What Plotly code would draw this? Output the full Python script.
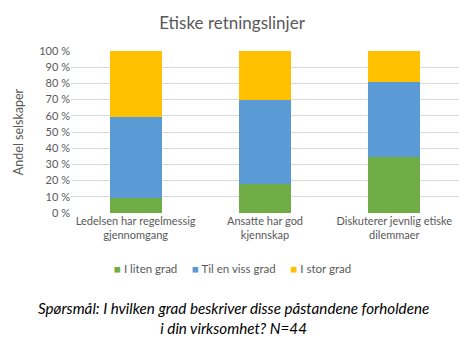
import plotly.graph_objects as go

categories = ["Ledelsen har regelmessig<br>gjennomgang", "Ansatte har god<br>kjennskap", "Diskuterer jevnlig etiske<br>dilemmaer"]
series_names = ["I liten grad", "Til en viss grad", "I stor grad"]
liten = [9.1, 18.2, 34.4]
viss = [50.3, 51.6, 46.3]
stor = [40.6, 30.2, 19.3]
colors = ["#70AD47", "#5B9BD5", "#FFC000"]
tick_vals = [0, 10, 20, 30, 40, 50, 60, 70, 80, 90, 100]
tick_text = [f"{v} %" for v in tick_vals]

fig = go.Figure()
for name, vals, col in zip(series_names, [liten, viss, stor], colors):
    fig.add_trace(go.Bar(x=categories, y=vals, name=name, marker=dict(color=col, line=dict(width=0)),
                         width=0.4, showlegend=False))

font_family = "Lato, 'Open Sans', sans-serif"
fig.update_layout(
    barmode="stack",
    width=464, height=351,
    margin=dict(l=71, r=5, t=51, b=138),
    paper_bgcolor="white", plot_bgcolor="white",
    font=dict(family=font_family, color="#595959", size=11),
    title=dict(text="Etiske retningslinjer", x=0.5, xanchor="center", y=0.935, yanchor="middle",
               font=dict(size=17, color="#595959", family=font_family)),
    yaxis=dict(range=[0, 100], tickvals=tick_vals, ticktext=tick_text, showgrid=True, gridcolor="#D9D9D9",
               gridwidth=1, zeroline=False, showline=False, ticks="", tickfont=dict(size=11, color="#595959"),
               title=dict(text="Andel selskaper", font=dict(size=12.5, color="#595959"), standoff=12)),
    xaxis=dict(showline=False, ticks="", tickfont=dict(size=11, color="#595959")),
    showlegend=False,
)

legend_text = "&nbsp;&nbsp;&nbsp;&nbsp;&nbsp;".join(
    f"<span style='color:{c}'>■</span> {n}" for n, c in zip(series_names, colors)
)
fig.add_annotation(text=legend_text, xref="paper", yref="paper", x=0.415, y=-0.34,
                   xanchor="center", yanchor="middle", showarrow=False,
                   font=dict(size=11.5, color="#595959", family=font_family))
fig.add_annotation(text="<i>Spørsmål: I hvilken grad beskriver disse påstandene forholdene<br>i din virksomhet? N=44</i>",
                   xref="paper", yref="paper", x=0.42, y=-0.52, xanchor="center", yanchor="top",
                   showarrow=False, font=dict(size=15.2, color="#000000", family=font_family), align="center")

fig.write_html("out.html")
